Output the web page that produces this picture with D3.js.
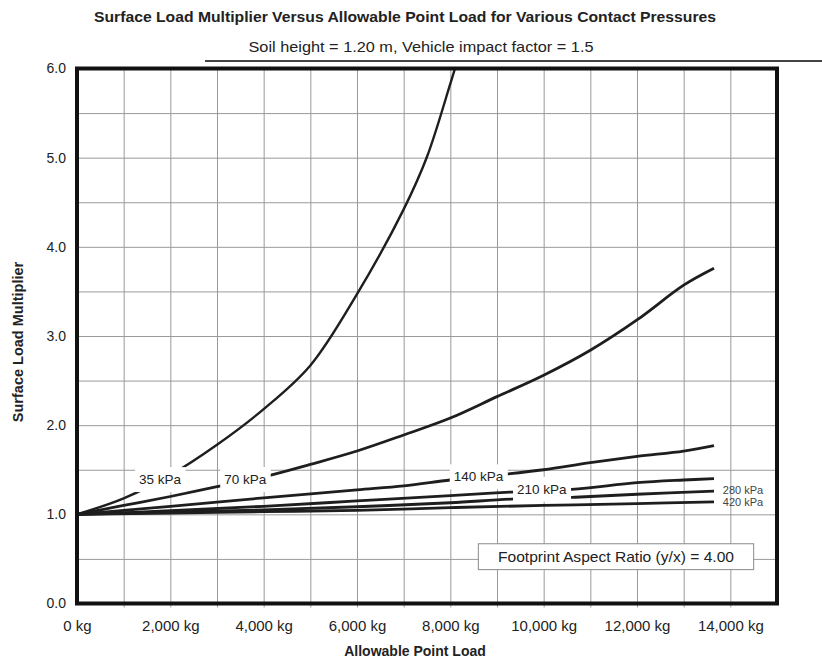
<!DOCTYPE html>
<html>
<head>
<meta charset="utf-8">
<script src="https://cdn.jsdelivr.net/npm/d3@7"></script>
<style>
  body { margin: 0; background: #fff; }
  svg text { font-family: "Liberation Sans", Arial, Helvetica, sans-serif; fill: #222; }
</style>
</head>
<body>
<svg id="chart" width="822" height="664"></svg>
<script>
// Contact pressure series: allowable point load (kg) against surface load multiplier
const pressures = ["35 kPa", "70 kPa", "140 kPa", "210 kPa", "280 kPa", "420 kPa"];

const load35 = [0, 1000, 2000, 3000, 4000, 5000, 6000, 7000, 7500, 8000, 8100];
const mult35 = [1.00, 1.18, 1.44, 1.78, 2.18, 2.67, 3.47, 4.42, 5.01, 5.83, 6.00];

const load70 = [0, 1000, 2000, 3000, 4000, 5000, 6000, 7000, 8000, 9000, 10000, 11000, 12000, 13000, 13650];
const mult70 = [1.00, 1.10, 1.20, 1.31, 1.42, 1.56, 1.71, 1.89, 2.08, 2.32, 2.56, 2.84, 3.18, 3.57, 3.76];

const load140 = [0, 2000, 4000, 6000, 7000, 8000, 9000, 10000, 11000, 12000, 13000, 13650];
const mult140 = [1.00, 1.09, 1.185, 1.275, 1.32, 1.385, 1.44, 1.50, 1.58, 1.65, 1.71, 1.77];

const load210 = [0, 2000, 4000, 6000, 8000, 9300, 10600, 12000, 13000, 13650];
const mult210 = [1.00, 1.04, 1.09, 1.15, 1.21, 1.25, 1.28, 1.355, 1.385, 1.40];

const load280 = [0, 2000, 4000, 6000, 8000, 9300, 10600, 12000, 13650];
const mult280 = [1.00, 1.025, 1.05, 1.085, 1.13, 1.17, 1.19, 1.225, 1.26];

const load420 = [0, 2000, 4000, 6000, 8000, 10000, 12000, 13650];
const mult420 = [1.00, 1.015, 1.03, 1.045, 1.075, 1.10, 1.12, 1.14];

const xTickValues = [0, 2000, 4000, 6000, 8000, 10000, 12000, 14000];
const yTickValues = [0, 1, 2, 3, 4, 5, 6];

const titleText = "Surface Load Multiplier Versus Allowable Point Load for Various Contact Pressures";
const subtitleText = "Soil height = 1.20 m,  Vehicle impact factor = 1.5";
const xTitle = "Allowable Point Load";
const yTitle = "Surface Load Multiplier";
const noteText = "Footprint Aspect Ratio (y/x) = 4.00";

// ---- drawing ----
const loads = [load35, load70, load140, load210, load280, load420];
const mults = [mult35, mult70, mult140, mult210, mult280, mult420];
const series = pressures.map((name, i) => ({
  name,
  points: loads[i].map((v, j) => ({ x: v, y: mults[i][j] }))
}));

const svg = d3.select("#chart");
const plotLeft = 77, plotRight = 777, plotTop = 68.5, plotBottom = 603.5;

const x = d3.scaleLinear().domain([0, 15000]).range([plotLeft, plotRight]);
const y = d3.scaleLinear().domain([0, 6]).range([plotBottom, plotTop]);

// grid
const gridX = d3.range(1000, 15000, 1000);
const gridY = d3.range(0.5, 6, 0.5);
svg.append("g").attr("class", "grid-x")
  .attr("transform", `translate(0,${plotBottom + 4})`)
  .call(d3.axisBottom(x).tickValues(gridX).tickSize(-(plotBottom - plotTop + 4)).tickFormat(""))
  .call(g => g.select(".domain").remove())
  .call(g => g.selectAll("line").attr("stroke", "#9a9a9a").attr("stroke-width", 1));
svg.append("g").attr("class", "grid-y")
  .attr("transform", `translate(${plotLeft},0)`)
  .call(d3.axisRight(y).tickValues(gridY).tickSize(plotRight - plotLeft).tickFormat(""))
  .call(g => g.select(".domain").remove())
  .call(g => g.selectAll("line").attr("stroke", "#9a9a9a").attr("stroke-width", 1));

// series lines
svg.append("clipPath").attr("id", "plot-clip")
  .append("rect").attr("x", plotLeft).attr("y", plotTop)
  .attr("width", plotRight - plotLeft).attr("height", plotBottom - plotTop);

const line = d3.line().x(d => x(d.x)).y(d => y(d.y)).curve(d3.curveCatmullRom.alpha(0.5));
svg.append("g").attr("clip-path", "url(#plot-clip)")
  .selectAll("path").data(series).join("path")
  .attr("d", d => line(d.points))
  .attr("fill", "none")
  .attr("stroke", "#1e1e1e")
  .attr("stroke-width", (d, i) => i === 0 ? 2.4 : 2.8)
  .attr("stroke-linejoin", "round");

// in-plot series labels (boxed labels sit on a white background)
const labelSpots = [
  { name: "35 kPa",  at: [1780, 1.39], boxed: true,  anchor: "middle", size: 13.5 },
  { name: "70 kPa",  at: [3605, 1.39], boxed: true,  anchor: "middle", size: 13.5 },
  { name: "140 kPa", at: [8605, 1.42], boxed: true,  anchor: "middle", size: 13.5 },
  { name: "210 kPa", at: [9960, 1.28], boxed: true,  anchor: "middle", size: 13.5 },
  { name: "280 kPa", at: [13840, 1.277], boxed: false, anchor: "start", size: 11 },
  { name: "420 kPa", at: [13840, 1.137], boxed: false, anchor: "start", size: 11 }
];
const labelLayer = svg.append("g");
labelSpots.forEach(s => {
  const g = labelLayer.append("g");
  const t = g.append("text")
    .attr("x", x(s.at[0])).attr("y", y(s.at[1]))
    .attr("text-anchor", s.anchor)
    .attr("dominant-baseline", "central")
    .attr("font-size", s.size)
    .style("fill", s.boxed ? "#222" : "#444")
    .text(s.name);
  if (s.boxed) {
    const b = t.node().getBBox();
    g.insert("rect", "text")
      .attr("x", b.x - 4).attr("y", b.y - 5)
      .attr("width", b.width + 8).attr("height", b.height + 10)
      .attr("fill", "#fff");
  }
});

// note box
const noteG = svg.append("g");
noteG.append("rect")
  .attr("x", x(8600)).attr("y", y(0.67))
  .attr("width", x(14500) - x(8600)).attr("height", y(0.38) - y(0.67))
  .attr("fill", "#fff").attr("stroke", "#8a8a8a").attr("stroke-width", 1);
noteG.append("text")
  .attr("x", x(11550)).attr("y", y(0.525))
  .attr("text-anchor", "middle").attr("dominant-baseline", "central")
  .attr("font-size", 15).attr("textLength", 236).attr("lengthAdjust", "spacingAndGlyphs")
  .text(noteText);

// plot frame
svg.append("rect")
  .attr("x", plotLeft).attr("y", plotTop)
  .attr("width", plotRight - plotLeft).attr("height", plotBottom - plotTop)
  .attr("fill", "none").attr("stroke", "#111").attr("stroke-width", 4);

// axes labels
const xAxis = svg.append("g")
  .attr("transform", `translate(0,${plotBottom + 14})`)
  .call(d3.axisBottom(x).tickValues(xTickValues).tickSize(0).tickFormat(d => d3.format(",")(d) + " kg"));
xAxis.select(".domain").remove();
xAxis.selectAll("text").attr("font-size", 15).attr("font-family", null);

const yAxis = svg.append("g")
  .attr("transform", `translate(${plotLeft - 8},0)`)
  .call(d3.axisLeft(y).tickValues(yTickValues).tickSize(0).tickFormat(d3.format(".1f")));
yAxis.select(".domain").remove();
yAxis.selectAll("text").attr("font-size", 14).attr("font-family", null);

// titles
svg.append("text").attr("x", 405).attr("y", 22)
  .attr("text-anchor", "middle").attr("font-weight", "bold").attr("font-size", 15)
  .attr("textLength", 622).attr("lengthAdjust", "spacingAndGlyphs")
  .text(titleText);
svg.append("text").attr("x", 421).attr("y", 52)
  .attr("text-anchor", "middle").attr("font-size", 15)
  .attr("textLength", 345).attr("lengthAdjust", "spacingAndGlyphs")
  .text(subtitleText);
svg.append("line").attr("x1", 205).attr("x2", 822).attr("y1", 61).attr("y2", 61)
  .attr("stroke", "#444").attr("stroke-width", 2);

svg.append("text").attr("x", 415).attr("y", 656)
  .attr("text-anchor", "middle").attr("font-weight", "bold").attr("font-size", 14)
  .text(xTitle);
svg.append("text")
  .attr("transform", "translate(23,342) rotate(-90)")
  .attr("text-anchor", "middle").attr("font-weight", "bold").attr("font-size", 14.5)
  .text(yTitle);
</script>
</body>
</html>
